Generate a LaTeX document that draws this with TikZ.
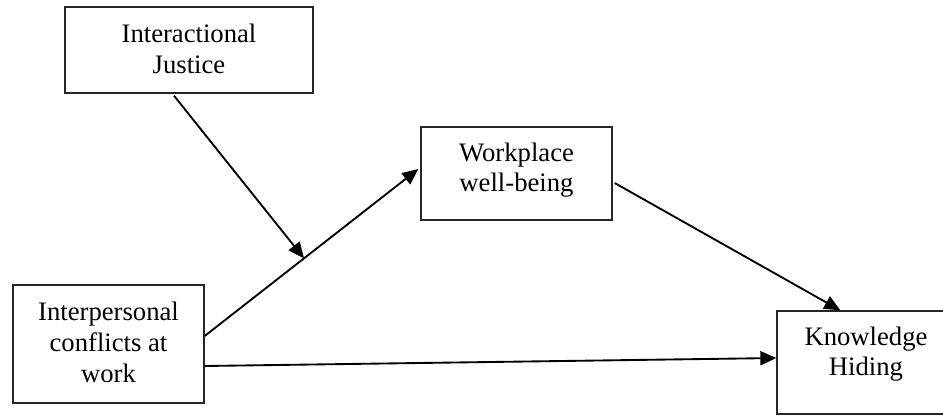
\documentclass[tikz,border=0pt]{standalone}
\usepackage{fontspec}
\setmainfont{Liberation Serif}
\usetikzlibrary{arrows.meta,calc}
\begin{document}
\begin{tikzpicture}[x=0.75pt,y=-0.75pt,
  box/.style={draw=black!85, line width=1pt, inner sep=0pt},
  txt/.style={align=center, font=\fontsize{20}{23}\selectfont, inner sep=0pt},
  arr/.style={line width=1.4pt, -{Triangle[length=12pt,width=10.5pt]}}]
\useasboundingbox (0,0) rectangle (943,415);
% boxes
\node[box, minimum width=186pt, minimum height=64.5pt] (J) at (189,50) {};
\node[box, minimum width=143.25pt, minimum height=69.75pt] (W) at (516.5,173.5) {};
\node[box, minimum width=143.25pt, minimum height=88.5pt] (C) at (108.5,344) {};
\node[box, minimum width=133.5pt, minimum height=77.25pt] (K) at (866,362.5) {};
% texts
\node[txt] (Jt) at (189,49) {Interactional\\Justice};
\node[txt] (Wt) at (516.5,170) {Workplace\\well-being};
\node[txt] (Ct) at (108.5,342.5) {Interpersonal\\conflicts at\\work};
\node[txt] (Kt) at (866,354) {Knowledge\\Hiding};
% connector points
\coordinate (c1) at ($(C.east)+(0,-8)$);
\coordinate (w1) at ($(W.west)+(-2,-4.5)$);
\coordinate (m) at ($(c1)!0.465!(w1)$);
\coordinate (j1) at ($(J.south)+(-15,2)$);
\coordinate (w2) at ($(W.east)+(2,9.5)$);
\coordinate (k1) at ($(K.north west)+(64,0)$);
\coordinate (c2) at ($(C.east)+(0,22)$);
\coordinate (k2) at ($(K.west)+(0,-4.5)$);
% connectors
\draw[arr] (c1) -- (w1);
\draw[arr] (j1) -- (m);
\draw[arr] (w2) -- (k1);
\draw[arr] (c2) -- (k2);
\end{tikzpicture}
\end{document}
